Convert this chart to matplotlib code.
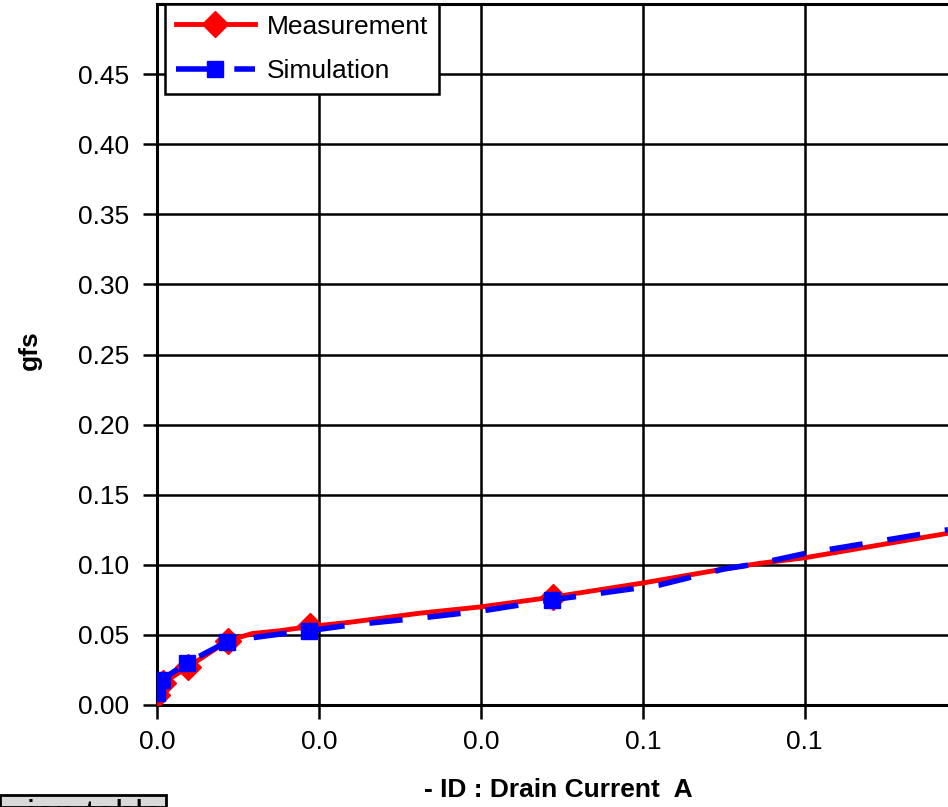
import matplotlib
matplotlib.use("Agg")
import matplotlib.pyplot as plt
from matplotlib.ticker import FuncFormatter
from matplotlib.patches import Rectangle

plt.rcParams['font.family'] = ['Liberation Sans', 'DejaVu Sans']

# Measurement (line points) and which indices carry markers
meas_x = [0.0000, 0.0008, 0.0038, 0.0088, 0.0118, 0.0152, 0.0189, 0.0238, 0.0325,
          0.0400, 0.0489, 0.0600, 0.0700, 0.0744, 0.0800, 0.0977]
meas_y = [0.007, 0.016, 0.027, 0.046, 0.051, 0.053, 0.056, 0.059, 0.0655,
          0.070, 0.077, 0.087, 0.097, 0.101, 0.105, 0.1225]
meas_markers = [0, 1, 2, 3, 6, 10]

sim_x = [0.0000, 0.0006, 0.0037, 0.0086, 0.0118, 0.0152, 0.0188, 0.0238, 0.0325,
         0.0400, 0.0488, 0.0620, 0.0700, 0.0744, 0.0800, 0.0977]
sim_y = [0.0085, 0.018, 0.030, 0.045, 0.048, 0.0506, 0.053, 0.057, 0.062,
         0.067, 0.075, 0.0855, 0.097, 0.101, 0.108, 0.125]
sim_markers = [0, 1, 2, 3, 6, 10]

y_ticks = [0.00, 0.05, 0.10, 0.15, 0.20, 0.25, 0.30, 0.35, 0.40, 0.45]
x_ticks = [0.00, 0.02, 0.04, 0.06, 0.08]

W, H = 948, 807
fig = plt.figure(figsize=(W / 100, H / 100), dpi=100)
ax = fig.add_axes([157 / W, 1 - 705 / H, 1 - 157 / W, (705 - 4) / H])

ax.plot(meas_x, meas_y, color='#ff0000', lw=3.5, marker='D', markersize=13,
        markevery=meas_markers, markeredgecolor='#ff0000', markerfacecolor='#ff0000',
        label='Measurement', zorder=3)
ax.plot(sim_x, sim_y, color='#0000ff', lw=4, ls=(0, (6, 4.5)), marker='s', markersize=11,
        markevery=sim_markers, markeredgecolor='#0000ff', markerfacecolor='#0000ff',
        label='Simulation', zorder=4)

ax.set_xlim(0, 0.0977)
ax.set_ylim(0, 0.5)
ax.set_yticks(y_ticks)
ax.set_xticks(x_ticks)
ax.yaxis.set_major_formatter(FuncFormatter(lambda v, p: f"{v:.2f}"))
ax.xaxis.set_major_formatter(FuncFormatter(lambda v, p: f"{v:.1f}"))
ax.grid(True, color='black', lw=1.8)
ax.set_axisbelow(True)
for s in ['left', 'bottom', 'top']:
    ax.spines[s].set_linewidth(2.2)
    ax.spines[s].set_color('black')
ax.spines['right'].set_visible(False)
ax.tick_params(axis='both', direction='out', length=10, width=1.8, labelsize=19,
               pad=10, colors='black')
ax.tick_params(axis='x', pad=8)

ax.set_ylabel('gfs', fontsize=19, fontweight='bold')
ax.yaxis.set_label_coords(-(157 - 30) / (W - 157), (705 - 350) / 701)
ax.yaxis.label.set_verticalalignment('center')
ax.set_xlabel('- ID : Drain Current  A', fontsize=19, fontweight='bold')
ax.xaxis.set_label_coords((558 - 157) / (W - 157), -(790 - 705) / 701)
ax.xaxis.label.set_verticalalignment('center')

leg = ax.legend(loc='upper left', bbox_to_anchor=((165 - 157) / (W - 157), 1.0),
                fontsize=19, frameon=True, fancybox=False, borderpad=0.4,
                handlelength=3.0, handletextpad=0.45, labelspacing=0.78,
                borderaxespad=0.0)
leg.get_frame().set_edgecolor('black')
leg.get_frame().set_linewidth(1.8)
leg.get_frame().set_alpha(1.0)

fig.patches.append(Rectangle((0, 0), 166 / W, 12 / H, transform=fig.transFigure,
                             facecolor='#d9d9d9', edgecolor='black', lw=2))
fig.text(27 / W, -19 / H, 'ion table', fontsize=26, ha='left', va='baseline')

fig.savefig('out.png', dpi=100)
